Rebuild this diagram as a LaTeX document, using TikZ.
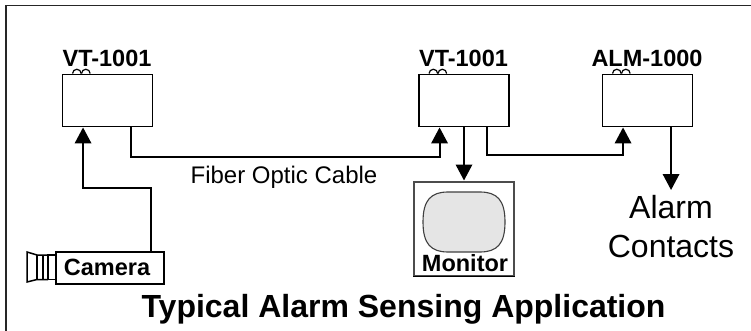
\documentclass[tikz,border=0pt]{standalone}
\usepackage{fontspec}
\setmainfont{Liberation Sans}
\usetikzlibrary{arrows.meta}
\tikzset{
  wire/.style={line width=1.9pt,line join=miter},
  feed/.style={wire,-{Triangle[length=16pt,width=16.5pt]}},
  devbox/.style={draw,line width=1.9pt,minimum width=90pt,minimum height=52pt,inner sep=0pt},
  lbl/.style={inner sep=0pt,anchor=base,font=\fontsize{23.5}{28}\selectfont\bfseries},
  plain/.style={inner sep=0pt,anchor=base,font=\fontsize{24}{28}\selectfont},
  big/.style={inner sep=0pt,align=center,font=\fontsize{32}{39}\selectfont},
  ttl/.style={inner sep=0pt,anchor=base,font=\fontsize{32}{38}\selectfont\bfseries},
  loopmark/.style={line width=1.2pt}
}
\begin{document}
\begin{tikzpicture}[x=1pt,y=-1pt]
\useasboundingbox (0,0) rectangle (751,331);
\fill[white] (0,0) rectangle (751,331);
% frame
\draw[line width=1.5pt,black!85] (6,331) -- (6,5.5) -- (751,5.5);
% devices
\node[devbox] (vta) at (107.5,100.5) {};
\node[devbox] (vtb) at (464,100.5) {};
\node[devbox] (alm) at (647.5,100.5) {};
\foreach \b in {vta,vtb,alm}{
  \draw[loopmark] ([xshift=11pt]\b.north west) arc[start angle=180,end angle=0,radius=4.3pt];
  \draw[loopmark] ([xshift=20pt]\b.north west) arc[start angle=180,end angle=0,radius=4.3pt];
}
\node[lbl] (vtal) at (107,67) {VT-1001};
\node[lbl] (vtbl) at (463.5,67) {VT-1001};
\node[lbl] (alml) at (647,67) {ALM-1000};
% camera
\node[draw,line width=1.8pt,minimum width=108pt,minimum height=32pt,inner sep=0pt] (cam) at (110,268) {};
\node[lbl] (caml) at (107,275) {Camera};
\draw[line width=1.5pt,line join=miter] (cam.west |- 0,255) -- (48,255) -- (48,279.5) -- (cam.west |- 0,279.5);
\draw[line width=1.5pt,line join=miter] (48,255) -- (37,255) -- (27,252) -- (27,282) -- (37,279.5) -- (48,279.5);
\draw[line width=1.5pt] (37,255) -- (37,279.5) (43,255) -- (43,279.5);
% monitor
\node[draw,black!70,line width=1.2pt,minimum width=100pt,minimum height=94pt,inner sep=0pt] (mon) at (464,229) {};
\draw[fill=black!10,draw=black!75,line width=1.1pt] (423,222)
  .. controls (423,200) and (431,192) .. (448,192) -- (480,192)
  .. controls (497,192) and (505,200) .. (505,222)
  .. controls (505,244) and (497,252) .. (480,252) -- (448,252)
  .. controls (431,252) and (423,244) .. (423,222) -- cycle;
\draw[line width=1.5pt] (mon.south west) -- (mon.south east);
\node[lbl] (monl) at (465,271) {Monitor};
% texts
\node[plain] (fib) at (284,183) {Fiber Optic Cable};
\node[big] (alc) at (671,227) {Alarm\\Contacts};
\node[ttl] (title) at (403.5,317) {Typical Alarm Sensing Application};
% connector ends on the boxes
\coordinate (vtain) at ([xshift=21.5pt]vta.south west);
\coordinate (vtaout) at ([xshift=69.5pt]vta.south west);
\coordinate (vtbin) at ([xshift=21.5pt]vtb.south west);
\coordinate (vtbmon) at (vtb.south);
\coordinate (vtbout) at ([xshift=69pt]vtb.south west);
\coordinate (almin) at ([xshift=21.5pt]alm.south west);
\coordinate (almout) at ([xshift=69.5pt]alm.south west);
\coordinate (camout) at ([xshift=96pt]cam.north west);
\coordinate (contacts) at (almout |- 0,190);
\coordinate (montop) at (vtbmon |- 0,180.5);
% connectors
\draw[feed] (camout) -- (camout |- 0,188) -- (vtain |- 0,188) -- (vtain);
\draw[feed] (vtaout) -- (vtaout |- 0,157) -- (vtbin |- 0,157) -- (vtbin);
\draw[feed] (vtbmon) -- (montop);
\draw[feed] (vtbout) -- (vtbout |- 0,155) -- (almin |- 0,155) -- (almin);
\draw[feed] (almout) -- (contacts);
\end{tikzpicture}
\end{document}
